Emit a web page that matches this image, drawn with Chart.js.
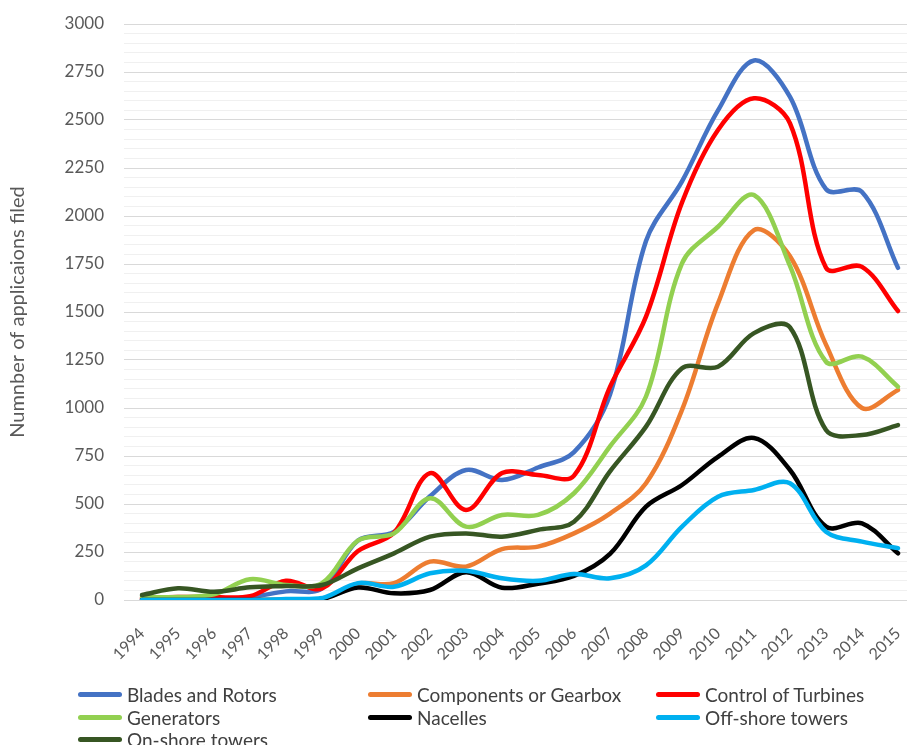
<!DOCTYPE html>
<html>
<head>
<meta charset="utf-8">
<script src="https://cdn.jsdelivr.net/npm/chart.js@4.4.0/dist/chart.umd.min.js"></script>
<style>
  html, body { margin: 0; padding: 0; background: #fff; }
  #wrap { position: relative; width: 907px; height: 745px; overflow: hidden; }
  #chartBox { position: absolute; left: 0; top: 0; width: 907px; height: 680px; }
  #legend { position: absolute; left: 0; top: 0; width: 907px; height: 745px; pointer-events: none;
            font-family: Lato, sans-serif; font-size: 19px; color: #404040; }
  .item { position: absolute; display: flex; align-items: center; height: 22px; white-space: nowrap; }
  .swatch { width: 44px; height: 5px; border-radius: 3px; margin-right: 5px; }
</style>
</head>
<body>
<div id="wrap">
  <div id="chartBox"><canvas id="patentChart"></canvas></div>
  <div id="legend"></div>
</div>
<script>
// data
const years = [1994, 1995, 1996, 1997, 1998, 1999, 2000, 2001, 2002, 2003, 2004,
               2005, 2006, 2007, 2008, 2009, 2010, 2011, 2012, 2013, 2014, 2015];

const bladesRotors = [5, 5, 5, 15, 45, 60, 310, 355, 540, 677, 625, 690, 770, 1070, 1870, 2180, 2550, 2810, 2620, 2140, 2125, 1730];
const componentsGearbox = [0, 0, 0, 0, 0, 5, 85, 88, 200, 174, 265, 278, 347, 450, 608, 990, 1545, 1927, 1790, 1330, 1000, 1094];
const controlTurbines = [10, 15, 15, 20, 100, 60, 255, 350, 661, 469, 661, 651, 648, 1110, 1476, 2070, 2448, 2613, 2483, 1730, 1735, 1505];
const generators = [15, 15, 30, 108, 78, 88, 310, 347, 530, 382, 443, 443, 556, 800, 1060, 1753, 1944, 2109, 1740, 1241, 1267, 1111];
const nacelles = [0, 0, 0, 0, 0, 5, 65, 35, 52, 145, 64, 85, 125, 240, 486, 599, 746, 844, 677, 382, 399, 243];
const offshoreTowers = [0, 0, 0, 0, 5, 10, 88, 69, 139, 152, 113, 100, 135, 113, 180, 382, 538, 573, 608, 356, 304, 270];
const onshoreTowers = [26, 61, 43, 66, 73, 78, 165, 243, 330, 347, 330, 365, 408, 670, 903, 1207, 1215, 1390, 1420, 885, 859, 911];

const seriesNames = ['Blades and Rotors', 'Components or Gearbox', 'Control of Turbines',
                     'Generators', 'Nacelles', 'Off-shore towers', 'On-shore towers'];
const seriesValues = [bladesRotors, componentsGearbox, controlTurbines,
                      generators, nacelles, offshoreTowers, onshoreTowers];
const seriesColors = ['#4472C4', '#ED7D31', '#FF0000', '#92D050', '#000000', '#00B0F0', '#375623'];

const yTickLabels = [0, 250, 500, 750, 1000, 1250, 1500, 1750, 2000, 2250, 2500, 2750, 3000];
const yMinorStep = 50;
const yAxisTitle = 'Numnber of applicaions filed';

const datasets = seriesNames.map((name, i) => ({
    label: name,
    data: years.map((yr, j) => ({ x: yr, y: seriesValues[i][j] })),
    borderColor: seriesColors[i],
    backgroundColor: seriesColors[i],
    borderWidth: 4.5,
    pointRadius: 0,
    tension: 0.35,
    borderCapStyle: 'round',
    borderJoinStyle: 'round',
    order: seriesNames.length - i   // later series on top, like the original
}));

const chart = new Chart(document.getElementById('patentChart'), {
    type: 'line',
    data: { datasets: datasets },
    options: {
        responsive: true,
        maintainAspectRatio: false,
        animation: false,
        layout: { padding: { top: 24, right: 0, bottom: 0, left: 0 } },
        plugins: {
            legend: { display: false },
            tooltip: { enabled: false }
        },
        scales: {
            x: {
                type: 'linear',
                min: years[0] - 0.5,
                max: years[years.length - 1] + 0.25,
                afterBuildTicks: s => { s.ticks = years.map(v => ({ value: v })); },
                afterFit: s => { s.height = 80; s.paddingLeft = 0; s.paddingRight = 0; },
                grid: { display: false },
                border: { display: false },
                ticks: {
                    autoSkip: false,
                    minRotation: 45,
                    maxRotation: 45,
                    padding: 16,
                    color: '#595959',
                    font: { family: 'Lato', size: 16 },
                    callback: v => String(v)
                }
            },
            y: {
                min: 0,
                max: 3000,
                afterBuildTicks: s => {
                    const t = [];
                    for (let v = 0; v <= yTickLabels[yTickLabels.length - 1]; v += yMinorStep) t.push({ value: v });
                    s.ticks = t;
                },
                afterFit: s => { s.width = 124; s.paddingTop = 0; s.paddingBottom = 0; },
                grid: {
                    drawTicks: false,
                    color: c => yTickLabels.includes(c.tick.value) ? '#d9d9d9' : '#f0f0f0',
                    lineWidth: 1
                },
                border: { display: false },
                ticks: {
                    autoSkip: false,
                    padding: 20,
                    color: '#595959',
                    font: { family: 'Lato', size: 17 },
                    callback: v => yTickLabels.includes(v) ? String(v) : ''
                },
                title: {
                    display: true,
                    text: yAxisTitle,
                    color: '#595959',
                    font: { family: 'Lato', size: 20 },
                    padding: { top: 6, bottom: 0 }
                }
            }
        }
    }
});

// legend laid out in three columns like the original
const legendBox = document.getElementById('legend');
const colLeft = [78, 368, 656];
const rowTop = [683, 706, 728];
chart.data.datasets.forEach((ds, i) => {
    const item = document.createElement('div');
    item.className = 'item';
    item.style.left = colLeft[i % 3] + 'px';
    item.style.top = rowTop[Math.floor(i / 3)] + 'px';
    item.innerHTML = '<span class="swatch" style="background:' + ds.borderColor + '"></span><span>' + ds.label + '</span>';
    legendBox.appendChild(item);
});
</script>
</body>
</html>
